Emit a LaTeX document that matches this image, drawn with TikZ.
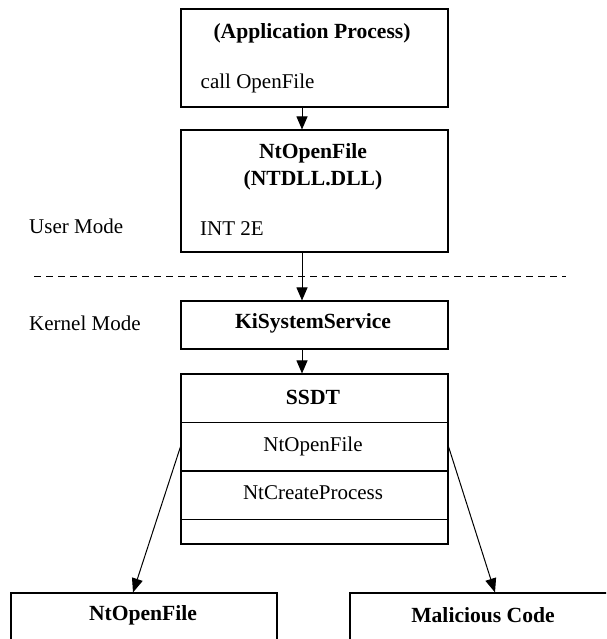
\documentclass[tikz,border=0pt]{standalone}
\usepackage{fontspec}
\setmainfont{Liberation Serif}
\usetikzlibrary{arrows.meta}
\begin{document}
\begin{tikzpicture}[x=1pt,y=-1pt,
  boxn/.style={draw,line width=1.1pt,inner sep=0pt,minimum width=267pt},
  lbl/.style={inner sep=0pt,font=\fontsize{21}{25}\selectfont},
  blbl/.style={inner sep=0pt,font=\fontsize{21.6}{25}\selectfont\bfseries},
  arr/.style={line width=1pt,-{Triangle[length=13pt,width=11pt]}},
  darr/.style={line width=1pt,-{Triangle[length=14pt,width=11pt]}}]
\clip (0,0) rectangle (606,639);
\fill[white] (0,0) rectangle (606,639);
% boxes
\node[boxn,minimum height=98pt] (app) at (314.5,58) {};
\node[boxn,minimum height=122pt] (ntdll) at (314.5,191) {};
\node[boxn,minimum height=48pt] (kiss) at (314.5,325) {};
\node[boxn,minimum height=48.5pt] (ssdthead) at (314.5,398.25) {};
\node[boxn,minimum height=48.5pt] (ssdta) at (314.5,446.75) {};
\node[boxn,minimum height=48.3pt] (ssdtb) at (314.5,495.15) {};
\node[boxn,minimum height=24.7pt] (ssdtc) at (314.5,531.65) {};
\node[boxn,minimum width=266pt,minimum height=67pt] (orig) at (144,626.5) {};
\node[boxn,minimum width=266pt,minimum height=67pt] (mal) at (483,626.5) {};
% texts
\node[blbl] (t1) at (312,33) {(Application Process)};
\node[lbl,anchor=west] (t2) at (200.5,83) {call OpenFile};
\node[blbl] (t3) at (313,153) {NtOpenFile};
\node[blbl] (t4) at (313,180) {(NTDLL.DLL)};
\node[lbl,anchor=west] (t5) at (200,229) {INT 2E};
\node[lbl,anchor=west] (um) at (29,226) {User Mode};
\node[lbl,anchor=west] (km) at (29,323) {Kernel Mode};
\node[blbl] (t6) at (313,323) {KiSystemService};
\node[blbl] (t7) at (313,397) {SSDT};
\node[lbl] (t8) at (313,446) {NtOpenFile};
\node[lbl] (t9) at (313,493) {NtCreateProcess};
\node[blbl] (t10) at (143,615) {NtOpenFile};
\node[blbl] (t11) at (483,615) {Malicious Code};
% mode separator
\coordinate (dl) at (34,276);
\coordinate (dr) at (566,276);
\draw[line width=1pt,dash pattern=on 7pt off 5pt] (dl) -- (dr);
% connectors
\coordinate (ax) at (302,0);
\coordinate (lx) at (133,0);
\coordinate (rx) at (495,0);
\draw[arr] (app.south -| ax) -- (ntdll.north -| ax);
\draw[arr] (ntdll.south -| ax) -- (kiss.north -| ax);
\draw[arr] (kiss.south -| ax) -- (ssdthead.north -| ax);
\draw[darr] (ssdta.west) -- (orig.north -| lx);
\draw[darr] (ssdta.east) -- (mal.north -| rx);
\end{tikzpicture}
\end{document}
